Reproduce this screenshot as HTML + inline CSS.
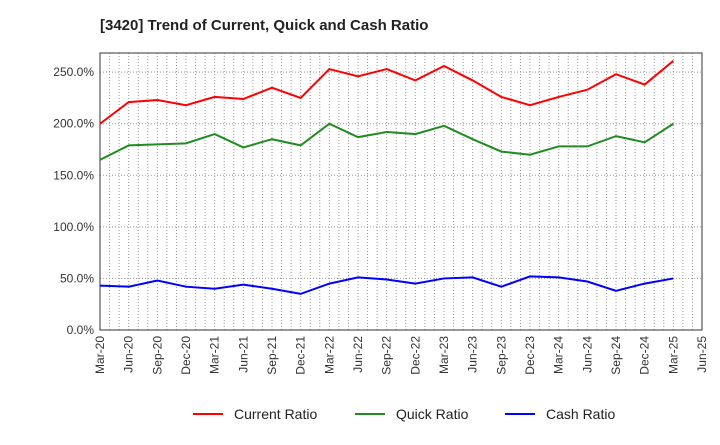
<!DOCTYPE html>
<html><head><meta charset="utf-8"><style>
body{margin:0;background:#fff;font-family:"Liberation Sans",sans-serif;}
</style></head><body>
<svg id="chart" width="720" height="440" xmlns="http://www.w3.org/2000/svg">
<text x="100" y="30" font-size="15" font-weight="bold" fill="#222">[3420]  Trend of Current, Quick and Cash Ratio</text>
<g id="grid"></g><g id="axes"></g><g id="series"></g><g id="legend"></g>
</svg>
<script>
const categories=["Mar-20","Jun-20","Sep-20","Dec-20","Mar-21","Jun-21","Sep-21","Dec-21","Mar-22","Jun-22","Sep-22","Dec-22","Mar-23","Jun-23","Sep-23","Dec-23","Mar-24","Jun-24","Sep-24","Dec-24","Mar-25","Jun-25"];
const currentRatio=[200,221,223,218,226,224,235,225,253,246,253,242,256,242,226,218,226,233,248,238,261];
const quickRatio=[165,179,180,181,190,177,185,179,200,187,192,190,198,185,173,170,178,178,188,182,200];
const cashRatio=[43,42,48,42,40,44,40,35,45,51,49,45,50,51,42,52,51,47,38,45,50];
const yTicks=[0,50,100,150,200,250];
const L=100,R=702,T=53,B=330,yMax=268.6;
const ns="http://www.w3.org/2000/svg";
const x=i=>L+i*(R-L)/(categories.length-1);
const y=v=>B-v/yMax*(B-T);
function mk(tag,attrs,parent){const e=document.createElementNS(ns,tag);for(const k in attrs)e.setAttribute(k,attrs[k]);document.getElementById(parent).appendChild(e);return e;}
// monthly vertical grid
const nMonths=(categories.length-1)*3;
for(let m=1;m<nMonths;m++){const xx=L+m*(R-L)/nMonths;
const g=mk("line",{x1:xx,x2:xx,y1:T,y2:B,stroke:"#999","stroke-width":1,"stroke-dasharray":"1,2"},"grid");

}
yTicks.forEach(v=>{if(v>0){const g=mk("line",{x1:L,x2:R,y1:y(v),y2:y(v),stroke:"#999","stroke-width":1,"stroke-dasharray":"1,2"},"grid");

}
const t=mk("text",{x:L-6,y:y(v)+4,"text-anchor":"end","font-size":12,fill:"#333"},"axes");t.textContent=v.toFixed(1)+"%";

});
const fr=mk("rect",{x:L,y:T,width:R-L,height:B-T,fill:"none",stroke:"#333","stroke-width":1},"axes");


categories.forEach((c,i)=>{const t=mk("text",{transform:`translate(${x(i)+4},${B+6}) rotate(-90)`,"text-anchor":"end","font-size":12,fill:"#333"},"axes");t.textContent=c;

});
const series=[["current-ratio-line",currentRatio,"#ff0000"],["quick-ratio-line",quickRatio,"#228b22"],["cash-ratio-line",cashRatio,"#0000ff"]];
series.forEach(([n,d,c])=>{const p=mk("polyline",{points:d.map((v,i)=>x(i)+","+y(v)).join(" "),fill:"none",stroke:c,"stroke-width":2},"series");

});
const leg=[["Current Ratio","#ff0000",193],["Quick Ratio","#228b22",355],["Cash Ratio","#0000ff",505]];
leg.forEach(([n,c,lx])=>{const l=mk("line",{x1:lx,x2:lx+30,y1:414,y2:414,stroke:c,"stroke-width":2},"legend");


const t=mk("text",{x:lx+41,y:419,"font-size":14,fill:"#222"},"legend");t.textContent=n;

});
</script>
</body></html>
